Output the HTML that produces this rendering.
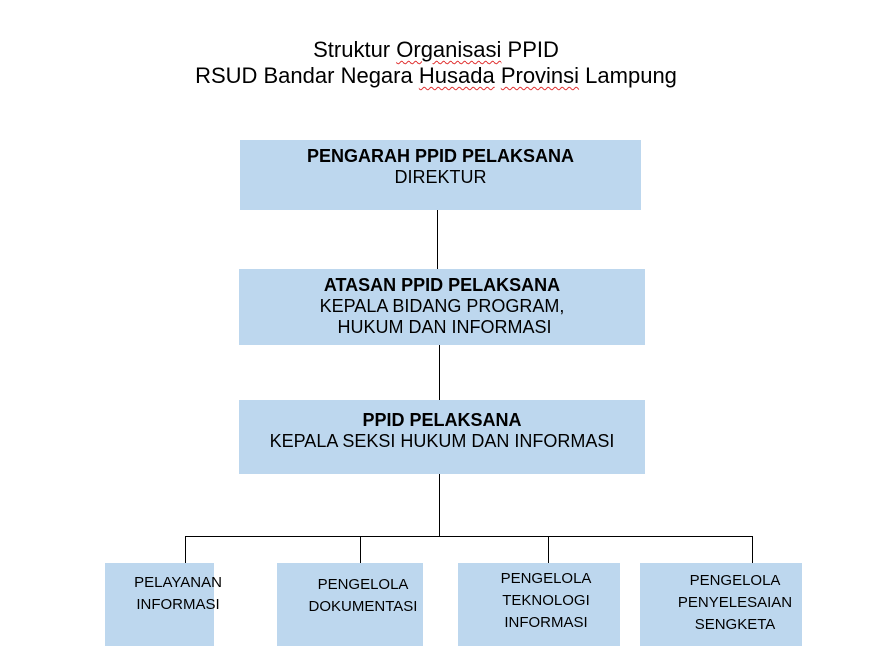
<!DOCTYPE html>
<html><head><meta charset="utf-8"><style>
body{margin:0;width:896px;height:672px;background:#fff;position:relative;font-family:"Liberation Sans",Arial,sans-serif;color:#000;overflow:hidden}
.t{position:absolute;left:0;width:896px;text-align:center;font-size:22px;line-height:26px}
.b{position:absolute;background:#bdd7ee;text-align:center;font-size:18px;line-height:21px;box-sizing:border-box}
.s{position:absolute;background:#bdd7ee}
.st{position:absolute;width:200px;text-align:center;font-size:15px;line-height:22px}
.l{position:absolute;background:#000}
u{text-decoration:underline wavy #e03030;text-decoration-thickness:1px;text-underline-offset:3px}
</style></head><body>
<div class="t" style="top:37px;left:-12px">Struktur <u>Organisasi</u> PPID</div>
<div class="t" style="top:63px;left:-12px">RSUD Bandar Negara <u>Husada</u> <u>Provinsi</u> Lampung</div>

<div class="b" style="left:240px;top:140px;width:401px;height:70px;padding-top:6px"><b>PENGARAH PPID PELAKSANA</b><br>DIREKTUR</div>
<div class="l" style="left:437px;top:210px;width:1px;height:59px"></div>
<div class="b" style="left:239px;top:269px;width:406px;height:76px;padding-top:6px"><b>ATASAN PPID PELAKSANA</b><br>KEPALA BIDANG PROGRAM,<br>&nbsp;HUKUM DAN INFORMASI</div>
<div class="l" style="left:439px;top:345px;width:1px;height:55px"></div>
<div class="b" style="left:239px;top:400px;width:406px;height:74px;padding-top:10px"><b>PPID PELAKSANA</b><br>KEPALA SEKSI HUKUM DAN INFORMASI</div>
<div class="l" style="left:439px;top:474px;width:1px;height:63px"></div>
<div class="l" style="left:185px;top:536px;width:568px;height:1px"></div>
<div class="l" style="left:185px;top:536px;width:1px;height:27px"></div>
<div class="l" style="left:360px;top:536px;width:1px;height:27px"></div>
<div class="l" style="left:548px;top:536px;width:1px;height:27px"></div>
<div class="l" style="left:752px;top:536px;width:1px;height:27px"></div>

<div class="s" style="left:105px;top:563px;width:109px;height:83px"></div>
<div class="s" style="left:277px;top:563px;width:146px;height:83px"></div>
<div class="s" style="left:458px;top:563px;width:162px;height:83px"></div>
<div class="s" style="left:640px;top:563px;width:162px;height:83px"></div>
<div class="st" style="left:78px;top:572px">PELAYANAN<br>INFORMASI</div>
<div class="st" style="left:263px;top:574px">PENGELOLA<br>DOKUMENTASI</div>
<div class="st" style="left:446px;top:568px">PENGELOLA<br>TEKNOLOGI<br>INFORMASI</div>
<div class="st" style="left:635px;top:570px">PENGELOLA<br>PENYELESAIAN<br>SENGKETA</div>
</body></html>
